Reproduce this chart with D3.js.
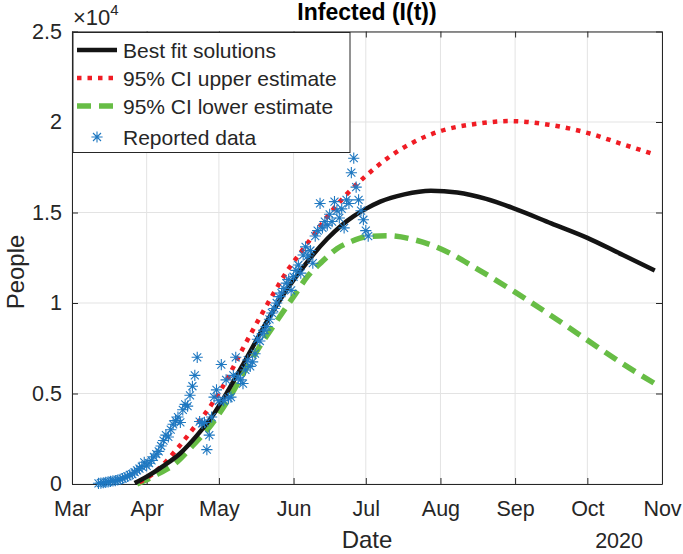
<!DOCTYPE html>
<html>
<head>
<meta charset="utf-8">
<script src="https://cdn.jsdelivr.net/npm/d3@7"></script>
<style>
  html, body { margin: 0; padding: 0; background: #fff; }
  svg { display: block; font-family: "Liberation Sans", Arial, Helvetica, sans-serif; }
</style>
</head>
<body>
<svg id="chart" width="683" height="554"></svg>
<script>
// ---------------- DATA ----------------
const monthTicks = ["2020-03-01","2020-04-01","2020-05-01","2020-06-01","2020-07-01","2020-08-01","2020-09-01","2020-10-01","2020-11-01"];
const yTicks = [0, 5000, 10000, 15000, 20000, 25000];
const yTickLabels = ["0", "0.5", "1", "1.5", "2", "2.5"];

// Best fit solution
const fitDates = ["2020-03-27","2020-04-01","2020-04-08","2020-04-15","2020-04-22","2020-04-28","2020-05-05","2020-05-11","2020-05-16","2020-05-21","2020-05-26","2020-05-30","2020-06-04","2020-06-09","2020-06-15","2020-06-21","2020-06-26","2020-07-01","2020-07-07","2020-07-17","2020-07-28","2020-08-08","2020-08-20","2020-09-01","2020-09-16","2020-10-01","2020-10-15","2020-10-29"];
const fitValues = [50, 400, 1000, 1700, 2700, 3700, 5200, 6600, 7800, 9000, 10100, 10900, 11800, 12650, 13550, 14300, 14800, 15200, 15600, 16000, 16200, 16100, 15750, 15200, 14400, 13600, 12700, 11800];

// 95% CI upper estimate
const upperDates = ["2020-03-29","2020-04-03","2020-04-08","2020-04-14","2020-04-20","2020-04-28","2020-05-04","2020-05-11","2020-05-18","2020-05-24","2020-05-30","2020-06-04","2020-06-09","2020-06-17","2020-06-23","2020-06-30","2020-07-10","2020-07-21","2020-08-01","2020-08-16","2020-08-30","2020-09-15","2020-10-01","2020-10-15","2020-10-29"];
const upperValues = [100, 500, 1100, 2000, 3000, 4400, 5700, 7500, 9200, 10600, 11900, 12800, 13700, 15100, 16000, 16900, 18000, 18900, 19500, 19900, 20050, 19850, 19400, 18800, 18200];

// 95% CI lower estimate
const lowerDates = ["2020-03-28","2020-04-05","2020-04-13","2020-04-20","2020-04-28","2020-05-06","2020-05-12","2020-05-17","2020-05-25","2020-06-01","2020-06-07","2020-06-13","2020-06-19","2020-06-25","2020-07-01","2020-07-10","2020-07-21","2020-08-01","2020-08-16","2020-09-01","2020-09-16","2020-10-01","2020-10-15","2020-10-29"];
const lowerValues = [0, 500, 1150, 2100, 3300, 4900, 6300, 7400, 9000, 10350, 11500, 12300, 13000, 13400, 13650, 13720, 13500, 13000, 11900, 10600, 9300, 7950, 6700, 5550];

// Reported data (daily, starting 2020-03-12)
const reportedStart = "2020-03-12";
const reportedValues = [
  40, 50, 70, 90, 120, 140, 170, 190, 220, 260, 300, 360, 420, 500, 550, 650, 750, 850, 960, 1200,
  1000, 1150, 1300, 1500, 1650, 1800, 2100, 2400, 2700, 2600, 3000, 3300, 3500, 3700, 3400, 4100,
  4400, 4300, 4900, 5400, 6000, 7000,
  3450, 3350, 3400, 1900, 2700, 3700, 4800, 5200, 4600, 6600, 4600, 5750, 4750, 4800, 6000, 7000,
  5900, 5750, 5550, 6300, 6850, 6500, 6750, 7200, 8000, 7900, 8300, 8500, 8700, 9100, 9450, 9700,
  10000, 10350, 10550, 10800, 11100, 11300, 10700, 11450, 11800, 12100, 11650, 12650, 13100, 12600,
  12900, 12200, 13700, 14000, 15500, 14150, 14500, 14300, 14900, 14500, 15600, 15100, 14700, 15200,
  14150, 15700, 15500, 17200, 18000, 16400, 15700, 15100, 14600, 14000, 13700
];

const legendLabels = ["Best fit solutions", "95% CI upper estimate", "95% CI lower estimate", "Reported data"];

// ---------------- CHART ----------------
const W = 683, H = 554;
const M = { left: 72, right: 662, top: 31.5, bottom: 484 };
const svg = d3.select("#chart");
svg.append("rect").attr("width", W).attr("height", H).attr("fill", "#fff");

const parse = d3.utcParse("%Y-%m-%d");
const x = d3.scaleUtc().domain([parse("2020-03-01"), parse("2020-11-01")]).range([M.left, M.right]);
const y = d3.scaleLinear().domain([0, 25000]).range([M.bottom, M.top]);

const axisColor = "#262626";
const gridColor = "#e3e3e3";
const tickDates = monthTicks.map(parse);

// grid
const grid = svg.append("g");
grid.selectAll("line.gx").data(tickDates).join("line")
  .attr("x1", d => x(d)).attr("x2", d => x(d))
  .attr("y1", M.top).attr("y2", M.bottom)
  .attr("stroke", gridColor).attr("stroke-width", 1);
grid.selectAll("line.gy").data(yTicks).join("line")
  .attr("x1", M.left).attr("x2", M.right)
  .attr("y1", d => y(d)).attr("y2", d => y(d))
  .attr("stroke", gridColor).attr("stroke-width", 1);

// axes
function styleAxis(g) {
  g.selectAll("path.domain").attr("stroke", axisColor).attr("stroke-width", 1);
  g.selectAll(".tick line").attr("stroke", axisColor).attr("stroke-width", 1);
  g.selectAll(".tick text").attr("fill", axisColor).attr("font-size", 21.5)
    .attr("font-family", "'Liberation Sans', Arial, sans-serif");
}
const xAxis = d3.axisBottom(x).tickValues(tickDates).tickFormat(d3.utcFormat("%b"))
  .tickSizeInner(-6).tickSizeOuter(0).tickPadding(17);
svg.append("g").attr("transform", `translate(0,${M.bottom})`).call(xAxis).call(styleAxis);
const xAxisTop = d3.axisTop(x).tickValues(tickDates).tickFormat("").tickSizeInner(-6).tickSizeOuter(0);
svg.append("g").attr("transform", `translate(0,${M.top})`).call(xAxisTop).call(styleAxis);

const yAxis = d3.axisLeft(y).tickValues(yTicks).tickFormat((d, i) => yTickLabels[i])
  .tickSizeInner(-6).tickSizeOuter(0).tickPadding(10);
svg.append("g").attr("transform", `translate(${M.left},0)`).call(yAxis).call(styleAxis);
const yAxisRight = d3.axisRight(y).tickValues(yTicks).tickFormat("").tickSizeInner(-6).tickSizeOuter(0);
svg.append("g").attr("transform", `translate(${M.right},0)`).call(yAxisRight).call(styleAxis);

// lines
const line = d3.line().x(d => x(d[0])).y(d => y(d[1])).curve(d3.curveMonotoneX);
const zip = (ds, vs) => ds.map((d, i) => [parse(d), vs[i]]);

const colBlack = "#141414", colRed = "#f01c24", colGreen = "#67bd45", colBlue = "#1f78c1";

svg.append("path").datum(zip(lowerDates, lowerValues)).attr("d", line)
  .attr("fill", "none").attr("stroke", colGreen).attr("stroke-width", 5.5)
  .attr("stroke-dasharray", "14,8");
svg.append("path").datum(zip(upperDates, upperValues)).attr("d", line)
  .attr("fill", "none").attr("stroke", colRed).attr("stroke-width", 4.5)
  .attr("stroke-dasharray", "4.5,6");
svg.append("path").datum(zip(fitDates, fitValues)).attr("d", line)
  .attr("fill", "none").attr("stroke", colBlack).attr("stroke-width", 4.5);

// reported data asterisks
const startDate = parse(reportedStart);
const reported = reportedValues.map((v, i) => [d3.utcDay.offset(startDate, i), v]);
const r = 5.6, dd = 4.0;
const starPath = `M${-r},0H${r}M0,${-r}V${r}M${-dd},${-dd}L${dd},${dd}M${-dd},${dd}L${dd},${-dd}`;
svg.append("g").selectAll("path").data(reported).join("path")
  .attr("transform", d => `translate(${x(d[0])},${y(d[1])})`)
  .attr("d", starPath).attr("fill", "none")
  .attr("stroke", colBlue).attr("stroke-width", 1.1);

// legend
const lg = svg.append("g");
lg.append("rect").attr("x", 73).attr("y", 32.5).attr("width", 277).attr("height", 120)
  .attr("fill", "#fff").attr("stroke", axisColor).attr("stroke-width", 1);
const rows = [50, 78, 106, 137];
const lStyles = [
  { c: colBlack, w: 4.5, dash: null },
  { c: colRed, w: 4.5, dash: "4.5,6" },
  { c: colGreen, w: 5.5, dash: "14,8" }
];
lStyles.forEach((s, i) => {
  const l = lg.append("line").attr("x1", 77).attr("x2", 117).attr("y1", rows[i]).attr("y2", rows[i])
    .attr("stroke", s.c).attr("stroke-width", s.w);
  if (s.dash) l.attr("stroke-dasharray", s.dash);
});
lg.append("path").attr("transform", `translate(97,${rows[3]})`).attr("d", starPath)
  .attr("fill", "none").attr("stroke", colBlue).attr("stroke-width", 1.1);
lg.selectAll("text").data(legendLabels).join("text")
  .attr("x", 123).attr("y", (d, i) => rows[i] + 7.5)
  .attr("font-size", 21).attr("fill", axisColor).text(d => d);

// labels
svg.append("text").attr("x", 367).attr("y", 20).attr("text-anchor", "middle")
  .attr("font-size", 23).attr("font-weight", "bold").attr("fill", "#000").text("Infected (I(t))");
const exp = svg.append("text").attr("x", 73).attr("y", 25).attr("font-size", 22).attr("fill", axisColor);
exp.append("tspan").text("\u00d710");
exp.append("tspan").attr("dy", -10).attr("font-size", 15).text("4");
svg.append("text").attr("x", 367).attr("y", 548).attr("text-anchor", "middle")
  .attr("font-size", 24).attr("fill", axisColor).text("Date");
svg.append("text").attr("x", 643).attr("y", 548).attr("text-anchor", "end")
  .attr("font-size", 21.5).attr("fill", axisColor).text("2020");
svg.append("text").attr("transform", "translate(24,272) rotate(-90)").attr("text-anchor", "middle")
  .attr("font-size", 24).attr("fill", axisColor).text("People");
</script>
</body>
</html>
